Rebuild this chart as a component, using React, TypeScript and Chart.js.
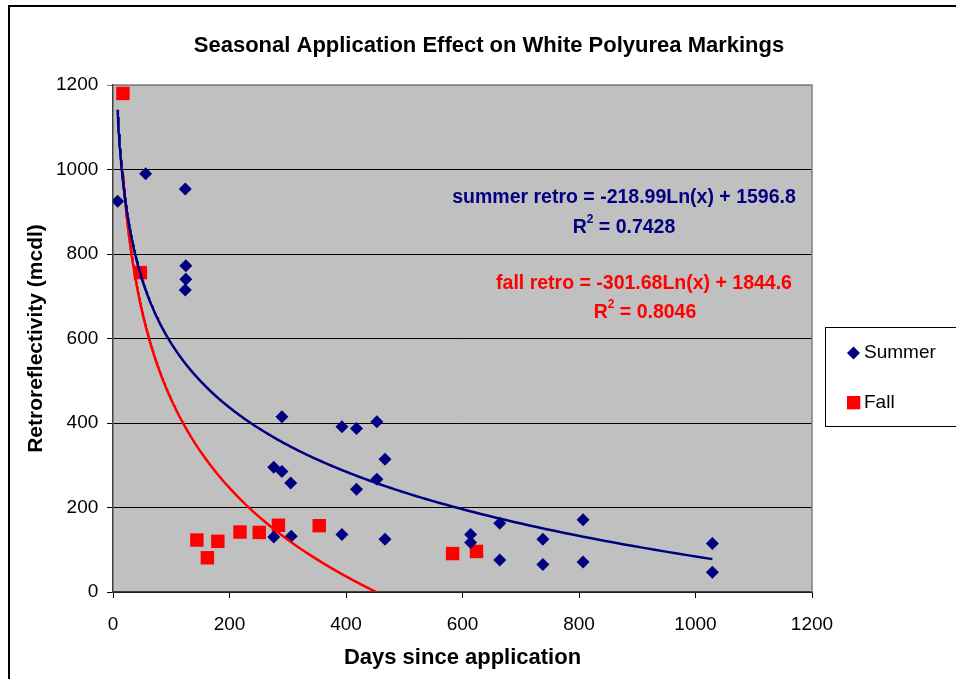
import React, { useEffect, useRef } from "react";
import { Chart, registerables } from "chart.js";

Chart.register(...registerables);

const FONT = '"Liberation Sans", Arial, sans-serif';

const chartTitle = "Seasonal Application Effect on White Polyurea Markings";
const xAxisTitle = "Days since application";
const yAxisTitle = "Retroreflectivity (mcdl)";
const seriesNames = ["Summer", "Fall"];

const summerDays = [8, 56, 124, 125, 125, 124, 290, 393, 418, 453, 467, 276, 290, 305, 418, 453, 664, 276, 306, 393, 467, 614, 614, 664, 738, 807, 1029, 738, 807, 1029];
const summerRetro = [925, 990, 954, 772, 740, 715, 415, 391, 387, 403, 314, 295, 285, 258, 243, 267, 163, 130, 132, 136, 125, 136, 117, 76, 125, 171, 115, 65, 71, 47];

const fallDays = [17, 47, 144, 162, 180, 218, 251, 284, 354, 583, 624];
const fallRetro = [1180, 756, 123, 81, 120, 142, 141, 158, 157, 91, 96];

const xTicks = [0, 200, 400, 600, 800, 1000, 1200];
const yTicks = [0, 200, 400, 600, 800, 1000, 1200];

// Printed logarithmic trendline coefficients: y = a*ln(x) + b
const summerFit = { a: -218.99, b: 1596.8, r2: "0.7428", label: "summer retro = -218.99Ln(x) + 1596.8" };
const fallFit = { a: -301.68, b: 1844.6, r2: "0.8046", label: "fall retro = -301.68Ln(x) + 1844.6" };

const NAVY = "#000080";
const RED = "#FF0000";

function trendPoints(fit: { a: number; b: number }, xs: number[]) {
  const xmin = Math.min(...xs);
  let xmax = Math.max(...xs);
  const zeroX = Math.exp(-fit.b / fit.a);
  if (zeroX < xmax) xmax = zeroX;
  const n = 240;
  const pts: { x: number; y: number }[] = [];
  for (let i = 0; i <= n; i++) {
    const x = xmin * Math.pow(xmax / xmin, i / n);
    pts.push({ x, y: Math.max(0, fit.a * Math.log(x) + fit.b) });
  }
  return pts;
}

function drawR2(ctx: CanvasRenderingContext2D, cx: number, cy: number, value: string, color: string) {
  const big = `bold 19.5px ${FONT}`;
  const small = `bold 12px ${FONT}`;
  ctx.font = big;
  const wR = ctx.measureText("R").width;
  const rest = " = " + value;
  const wRest = ctx.measureText(rest).width;
  ctx.font = small;
  const w2 = ctx.measureText("2").width;
  const total = wR + w2 + wRest;
  let x = cx - total / 2;
  ctx.fillStyle = color;
  ctx.textAlign = "left";
  ctx.textBaseline = "middle";
  ctx.font = big;
  ctx.fillText("R", x, cy);
  x += wR;
  ctx.font = small;
  ctx.fillText("2", x, cy - 8);
  x += w2;
  ctx.font = big;
  ctx.fillText(rest, x, cy);
}

const decoPlugin = {
  id: "deco",
  beforeDraw(chart: any) {
    const { ctx, chartArea: a } = chart;
    ctx.save();
    ctx.fillStyle = "#ffffff";
    ctx.fillRect(0, 0, chart.width, chart.height);
    ctx.strokeStyle = "#000";
    ctx.lineWidth = 2;
    ctx.strokeRect(9, 6, chart.width + 40, chart.height + 40);
    ctx.fillStyle = "#C0C0C0";
    ctx.fillRect(a.left, a.top, a.right - a.left, a.bottom - a.top);
    // Chart title
    ctx.fillStyle = "#000";
    ctx.font = `bold 22px ${FONT}`;
    ctx.textAlign = "center";
    ctx.textBaseline = "middle";
    ctx.fillText(chartTitle, 489, 46);
    ctx.restore();
  },
  beforeDatasetsDraw(chart: any) {
    const { ctx, chartArea: a } = chart;
    ctx.save();
    ctx.strokeStyle = "#808080";
    ctx.lineWidth = 1.5;
    ctx.beginPath();
    ctx.moveTo(a.left, a.top);
    ctx.lineTo(a.right, a.top);
    ctx.lineTo(a.right, a.bottom);
    ctx.stroke();
    ctx.restore();
  },
  afterDraw(chart: any) {
    const { ctx } = chart;
    ctx.save();
    // Legend box
    ctx.strokeStyle = "#000";
    ctx.lineWidth = 1;
    ctx.strokeRect(825.5, 327.5, 200, 99);
    // Summer marker (diamond)
    ctx.fillStyle = NAVY;
    ctx.beginPath();
    ctx.moveTo(853.5, 346.5);
    ctx.lineTo(860, 353);
    ctx.lineTo(853.5, 359.5);
    ctx.lineTo(847, 353);
    ctx.closePath();
    ctx.fill();
    // Fall marker (square)
    ctx.fillStyle = RED;
    ctx.fillRect(847, 396, 13.3, 13.3);
    ctx.fillStyle = "#000";
    ctx.font = `19px ${FONT}`;
    ctx.textAlign = "left";
    ctx.textBaseline = "middle";
    ctx.fillText(seriesNames[0], 864, 353);
    ctx.fillText(seriesNames[1], 864, 403);

    // Trendline labels
    ctx.textAlign = "center";
    ctx.font = `bold 19.5px ${FONT}`;
    ctx.fillStyle = NAVY;
    ctx.fillText(summerFit.label, 624, 197.5);
    drawR2(ctx, 624, 227.5, summerFit.r2, NAVY);
    ctx.textAlign = "center";
    ctx.font = `bold 19.5px ${FONT}`;
    ctx.fillStyle = RED;
    ctx.fillText(fallFit.label, 644, 284);
    drawR2(ctx, 645, 312.5, fallFit.r2, RED);
    ctx.restore();
  },
};

export default function App() {
  const ref = useRef<HTMLCanvasElement | null>(null);

  useEffect(() => {
    if (!ref.current) return;
    const summerPts = summerDays.map((x, i) => ({ x, y: summerRetro[i] }));
    const fallPts = fallDays.map((x, i) => ({ x, y: fallRetro[i] }));
    const chart = new Chart(ref.current, {
      type: "scatter",
      data: {
        datasets: [
          {
            label: "summer trend",
            data: trendPoints(summerFit, summerDays),
            showLine: true,
            borderColor: NAVY,
            borderWidth: 2.5,
            pointRadius: 0,
            tension: 0,
            order: 0,
          },
          {
            label: "fall trend",
            data: trendPoints(fallFit, fallDays),
            showLine: true,
            borderColor: RED,
            borderWidth: 2.5,
            pointRadius: 0,
            tension: 0,
            order: 0,
          },
          {
            label: seriesNames[0],
            data: summerPts,
            pointStyle: "rectRot",
            pointRadius: 6.5,
            backgroundColor: NAVY,
            borderColor: NAVY,
            borderWidth: 0,
            order: 1,
          },
          {
            label: seriesNames[1],
            data: fallPts,
            pointStyle: "rect",
            pointRadius: 9.5,
            backgroundColor: RED,
            borderColor: RED,
            borderWidth: 0,
            order: 1,
          },
        ],
      } as any,
      options: {
        animation: false,
        responsive: false,
        devicePixelRatio: 1,
        layout: { padding: { left: 0, right: 144, top: 85, bottom: 0 } },
        plugins: {
          legend: { display: false },
          tooltip: { enabled: false },
          title: { display: false },
        },
        scales: {
          x: {
            type: "linear",
            min: xTicks[0],
            max: xTicks[xTicks.length - 1],
            afterBuildTicks: (s: any) => {
              s.ticks = xTicks.map((v) => ({ value: v }));
            },
            ticks: {
              color: "#000",
              font: { family: FONT, size: 19 },
              padding: 15,
              maxRotation: 0,
              callback: (v: any) => String(v),
            },
            grid: { drawOnChartArea: false, drawTicks: true, tickLength: 6, color: "#000" },
            border: { color: "#404040", width: 1.5 },
            title: {
              display: true,
              text: xAxisTitle,
              color: "#000",
              font: { family: FONT, size: 22, weight: "bold" },
              padding: { top: 0, bottom: 8 },
            },
            afterFit: (s: any) => {
              s.height = 87;
            },
          },
          y: {
            type: "linear",
            min: yTicks[0],
            max: yTicks[yTicks.length - 1],
            afterBuildTicks: (s: any) => {
              s.ticks = yTicks.map((v) => ({ value: v }));
            },
            ticks: {
              color: "#000",
              font: { family: FONT, size: 19 },
              padding: 8.7,
              callback: (v: any) => String(v),
            },
            grid: {
              tickLength: 6,
              lineWidth: 1,
              color: (c: any) => (c.tick && c.tick.value === 1200 ? "#808080" : "#000"),
            },
            border: { color: "#404040", width: 1.5 },
            title: {
              display: true,
              text: yAxisTitle,
              color: "#000",
              font: { family: FONT, size: 21, weight: "bold" },
              padding: { top: 23.4, bottom: 0 },
            },
            afterFit: (s: any) => {
              s.width = 113;
            },
          },
        },
      } as any,
      plugins: [decoPlugin],
    });
    return () => chart.destroy();
  }, []);

  return (
    <div style={{ position: "absolute", left: 0, top: 0, width: 956, height: 679, overflow: "hidden" }}>
      <canvas ref={ref} width={956} height={679} style={{ display: "block", width: 956, height: 679 }} />
    </div>
  );
}
